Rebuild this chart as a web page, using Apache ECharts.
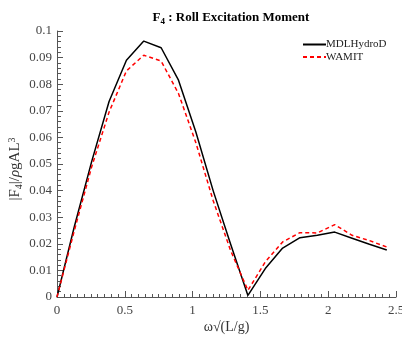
<!DOCTYPE html>
<html><head><meta charset="utf-8">
<script src="https://cdn.jsdelivr.net/npm/echarts@6/dist/echarts.min.js"></script>
<style>html,body{margin:0;padding:0;background:#fff}#c{width:402px;height:339px}</style>
</head><body><div id="c"></div>
<script>
const freq = [0, 0.128, 0.256, 0.384, 0.512, 0.64, 0.768, 0.896, 1.024, 1.152, 1.28, 1.408, 1.536, 1.664, 1.792, 1.92, 2.048, 2.176, 2.304, 2.432];
const mdlHydroD = [0, 0.0265, 0.051, 0.0735, 0.089, 0.0962, 0.0937, 0.0815, 0.062, 0.0399, 0.0199, 0.0006, 0.0107, 0.0184, 0.0223, 0.0232, 0.0244, 0.0221, 0.0198, 0.0177];
const wamit = [0, 0.025, 0.049, 0.0695, 0.085, 0.0909, 0.0887, 0.0765, 0.058, 0.0362, 0.0175, 0.0025, 0.0132, 0.0207, 0.0242, 0.0241, 0.0272, 0.0232, 0.0212, 0.0188];
const xTicks = [0, 0.5, 1, 1.5, 2, 2.5];
const yTicks = [0, 0.01, 0.02, 0.03, 0.04, 0.05, 0.06, 0.07, 0.08, 0.09, 0.1];

const serif = '"Liberation Serif", "DejaVu Serif", serif';
const pair = (xs, ys) => xs.map((x, i) => [x, ys[i]]);
const chart = echarts.init(document.getElementById('c'));
chart.setOption({
  animation: false,
  title: {
    text: '{b|F}{s|4}{b| : Roll Excitation Moment}',
    left: 226, textAlign: 'center', top: 5,
    textStyle: {
      rich: {
        b: {fontFamily: serif, fontWeight: 'bold', fontSize: 13, color: '#000'},
        s: {fontFamily: serif, fontWeight: 'bold', fontSize: 9, color: '#000', verticalAlign: 'bottom', padding: [7, 0, 0, 0]}
      }
    }
  },
  legend: {
    left: 297, top: 34, orient: 'vertical', itemGap: 1.5,
    itemWidth: 23, itemHeight: 10,
    itemStyle: {opacity: 0},
    textStyle: {fontFamily: serif, fontSize: 11, color: '#222', padding: [0, 0, 0, -5]},
    data: ['MDLHydroD', 'WAMIT']
  },
  grid: {left: 57, right: 6, top: 31, bottom: 42, containLabel: false, outerBoundsMode: 'none'},
  xAxis: {
    type: 'value', min: 0, max: 2.5, interval: 0.5,
    name: 'ω√(L/g)', nameLocation: 'middle', nameGap: 23, nameMoveOverlap: false,
    nameTextStyle: {fontFamily: serif, fontSize: 14, color: '#333'},
    axisLine: {onZero: false, lineStyle: {color: '#555', width: 1}},
    axisTick: {inside: true, length: 6, lineStyle: {color: '#555'}},
    minorTick: {show: true, splitNumber: 10, length: 3, lineStyle: {color: '#555'}},
    splitLine: {show: false},
    axisLabel: {fontFamily: serif, fontSize: 13, color: '#444', margin: 7, formatter: v => String(v)},
    data: xTicks
  },
  yAxis: {
    type: 'value', min: 0, max: 0.1, interval: 0.01,
    name: '{t||F}{sub|4}{t||/}{g|ρ}{t|gAL}{sup|3}', nameLocation: 'middle', nameGap: 33, nameRotate: 90,
    nameMoveOverlap: false,
    nameTextStyle: {
      padding: [0, 10, 0, 0],
      rich: {
        t: {fontFamily: serif, fontSize: 15, color: '#333'},
        g: {fontFamily: serif, fontSize: 15, color: '#333', fontStyle: 'italic'},
        sub: {fontFamily: serif, fontSize: 10, color: '#333', verticalAlign: 'bottom', padding: [7, 0, 0, 0]},
        sup: {fontFamily: serif, fontSize: 10, color: '#333', verticalAlign: 'top', padding: [0, 0, 7, 0]}
      }
    },
    axisLine: {show: true, onZero: false, lineStyle: {color: '#555', width: 1}},
    axisTick: {show: true, inside: true, length: 6, lineStyle: {color: '#555'}},
    minorTick: {show: true, splitNumber: 5, length: 4, lineStyle: {color: '#555'}},
    splitLine: {show: false},
    axisLabel: {fontFamily: serif, fontSize: 13, color: '#444', margin: 5, formatter: v => String(+v.toFixed(2))},
    data: yTicks
  },
  series: [
    {name: 'MDLHydroD', type: 'line', data: pair(freq, mdlHydroD), showSymbol: false, symbol: 'none',
     lineStyle: {color: '#000', width: 1.5}, itemStyle: {color: '#000'}},
    {name: 'WAMIT', type: 'line', data: pair(freq, wamit), showSymbol: false, symbol: 'none',
     lineStyle: {color: '#ff0000', width: 1.5, type: [4, 3]}, itemStyle: {color: '#ff0000'}}
  ]
});
</script></body></html>
